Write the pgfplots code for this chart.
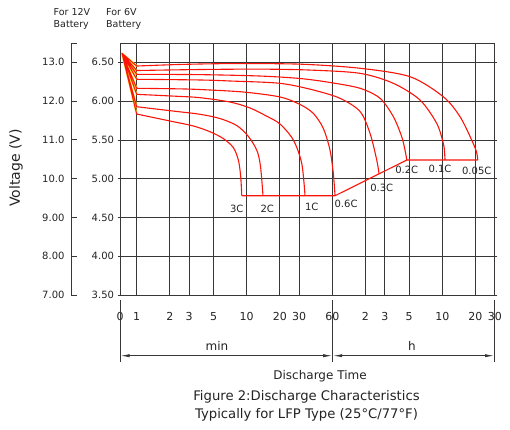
\documentclass[border=0pt]{standalone}
\usepackage{pgfplots}
\pgfplotsset{compat=1.18}
\usepackage{pgfplotstable}
\usepackage{fontspec}
\setmainfont{DejaVu Sans}
\usetikzlibrary{arrows.meta}
\definecolor{curvered}{RGB}{250,20,10}
\definecolor{curveyel}{RGB}{255,220,40}
\definecolor{gridc}{RGB}{55,55,55}
\definecolor{txt}{RGB}{35,35,35}

\pgfplotstableread{
x y
-0.1336 6.616
0 6.452
-0.1336 6.616
0 6.394
-0.1336 6.616
0 6.345
-0.1336 6.616
0 6.281
-0.1336 6.616
0 6.165
-0.1336 6.616
0 6.087
-0.1336 6.616
0 5.927
-0.1336 6.616
0 5.833
}\fan
\pgfplotstableread{
x y
0 6.452
0.394 6.472
0.848 6.483
1.485 6.476
2.030 6.423
2.485 6.314
2.787 6.056
2.939 5.799
3.045 5.498
3.089 5.343
3.100 5.240
}\cA
\pgfplotstableread{
x y
0 6.394
0.575 6.407
1.121 6.412
1.575 6.400
2.030 6.358
2.333 6.229
2.575 6.014
2.727 5.713
2.787 5.456
2.798 5.343
2.803 5.240
}\cB
\pgfplotstableread{
x y
0 6.345
0.575 6.341
1.121 6.323
1.485 6.291
1.757 6.240
2.030 6.165
2.212 6.036
2.333 5.799
2.409 5.541
2.439 5.369
2.455 5.240
}\cC
\pgfplotstableread{
x y
0 6.281
0.575 6.272
0.848 6.259
1.303 6.229
1.605 6.143
1.848 6.036
2.030 5.866
2.121 5.584
2.182 5.240
2.203 5.062
}\cD
\pgfplotstableread{
x y
0 6.165
0.364 6.158
0.575 6.149
0.969 6.117
1.303 6.053
1.485 5.956
1.605 5.842
1.696 5.649
1.757 5.369
1.787 5.069
1.803 4.780
}\cE
\pgfplotstableread{
x y
0 6.087
0.364 6.062
0.575 6.044
0.848 5.988
1.030 5.911
1.182 5.805
1.303 5.704
1.424 5.498
1.500 5.198
1.530 4.780
}\cF
\pgfplotstableread{
x y
0 5.927
0.364 5.866
0.575 5.830
0.757 5.775
0.909 5.685
1.012 5.550
1.091 5.369
1.125 5.163
1.148 4.780
}\cG
\pgfplotstableread{
x y
0 5.833
0.303 5.743
0.515 5.679
0.666 5.605
0.787 5.517
0.878 5.401
0.924 5.240
0.945 5.034
0.955 4.780
}\cH
\pgfplotstableread{
x y
0.955 4.780
1.803 4.780
2.455 5.240
3.100 5.240
}\cut

\begin{document}
\begin{tikzpicture}[x=1bp,y=1bp]
\useasboundingbox (0,0) rectangle (510,429);

% 12V scale
\begin{axis}[
  at={(71bp,134bp)}, anchor=south west,
  scale only axis, width=20bp, height=251.7bp,
  xmin=0, xmax=1, ymin=3.5, ymax=6.745,
  hide x axis, axis y line*=left,
  axis line style={-, gridc, line width=0.8bp},
  ytick={3.5,4,4.5,5,5.5,6,6.5,6.745},
  yticklabels={7.00,8.00,9.00,10.0,11.0,12.0,13.0,{}},
  tick align=inside, major tick length=6bp,
  ytick style={gridc, line width=0.8bp},
  yticklabel style={font=\fontsize{10bp}{12bp}\selectfont, text=txt, xshift=-3bp},
  /pgf/number format/assume math mode=true,
]
\addplot[draw=none] coordinates {(0.5,5)};
\end{axis}

% main axis (6V scale)
\begin{axis}[
  at={(120bp,134bp)}, anchor=south west,
  scale only axis, width=374.8bp, height=251.7bp,
  xmin=-0.1518, xmax=3.2553, ymin=3.5, ymax=6.745,
  xtick={-0.1518,0,0.30103,0.47712,0.69897,1,1.30103,1.47712,1.77815,2.07918,2.25527,2.47712,2.77815,3.07918,3.25527},
  xticklabels={0,1,2,3,5,10,20,30,60,2,3,5,10,20,30},
  ytick={3.5,4,4.5,5,5.5,6,6.5},
  yticklabels={3.50,4.00,4.50,5.00,5.50,6.00,6.50},
  grid=major, major grid style={gridc, line width=0.7bp},
  axis line style={gridc, line width=0.8bp},
  xtick style={draw=none},
  ytick style={gridc, line width=0.7bp},
  tick align=outside, major tick length=2.5bp,
  tick label style={font=\fontsize{10bp}{12bp}\selectfont, text=txt},
  xticklabel style={font=\fontsize{11bp}{13bp}\selectfont, yshift=-11bp},
  /pgf/number format/assume math mode=true,
  line join=round,
]
\addplot[curveyel, line width=1.8bp] table {\fan};
\addplot[curvered, line width=1.0bp] table {\fan};
\addplot[curvered, line width=1.1bp, smooth, tension=0.5] table {\cA};
\addplot[curvered, line width=1.1bp, smooth, tension=0.5] table {\cB};
\addplot[curvered, line width=1.1bp, smooth, tension=0.5] table {\cC};
\addplot[curvered, line width=1.1bp, smooth, tension=0.5] table {\cD};
\addplot[curvered, line width=1.1bp, smooth, tension=0.5] table {\cE};
\addplot[curvered, line width=1.1bp, smooth, tension=0.5] table {\cF};
\addplot[curvered, line width=1.1bp, smooth, tension=0.5] table {\cG};
\addplot[curvered, line width=1.1bp, smooth, tension=0.5] table {\cH};
\addplot[curvered, line width=1.1bp] table {\cut};
\begin{scope}[every node/.style={font=\fontsize{10bp}{12bp}\selectfont, text=txt, inner sep=0pt}]
\node at (axis cs:0.909,4.617) {3C};
\node at (axis cs:1.187,4.617) {2C};
\node at (axis cs:1.591,4.638) {1C};
\node at (axis cs:1.903,4.673) {0.6C};
\node at (axis cs:2.227,4.875) {0.3C};
\node at (axis cs:2.455,5.111) {0.2C};
\node at (axis cs:2.757,5.120) {0.1C};
\node at (axis cs:3.091,5.102) {0.05C};
\end{scope}
\end{axis}

% dimension lines under the time axis
\draw[gridc, line width=0.8bp] (120,129) -- (120,67);
\draw[gridc, line width=0.8bp] (332.7,129) -- (332.7,67);
\draw[gridc, line width=0.8bp] (494.5,129) -- (494.5,67);
\draw[gridc, line width=0.8bp, {Latex[length=9bp,width=3.2bp]}-{Latex[length=9bp,width=3.2bp]}] (120.5,73.3) -- (332.2,73.3);
\draw[gridc, line width=0.8bp, {Latex[length=9bp,width=3.2bp]}-{Latex[length=9bp,width=3.2bp]}] (333.2,73.3) -- (494,73.3);
\node[font=\fontsize{12bp}{14bp}\selectfont, text=txt] at (217,83) {min};
\node[font=\fontsize{12bp}{14bp}\selectfont, text=txt] at (412,83) {h};
\node[font=\fontsize{12bp}{14bp}\selectfont, text=txt] at (320,53) {Discharge Time};
\node[font=\fontsize{13.2bp}{16bp}\selectfont, text=txt] at (306.5,32) {Figure 2:Discharge Characteristics};
\node[font=\fontsize{13.2bp}{16bp}\selectfont, text=txt] at (306.5,14) {Typically for LFP Type (25°C/77°F)};
% y label and scale headers
\node[font=\fontsize{14bp}{16bp}\selectfont, text=txt, rotate=90] at (16,261) {Voltage (V)};
\node[font=\fontsize{9.5bp}{12.7bp}\selectfont, text=txt, align=left, anchor=west, inner sep=0pt] at (53.5,410) {For 12V\\Battery};
\node[font=\fontsize{9.5bp}{12.7bp}\selectfont, text=txt, align=left, anchor=west, inner sep=0pt] at (106,410) {For 6V\\Battery};
\end{tikzpicture}
\end{document}
